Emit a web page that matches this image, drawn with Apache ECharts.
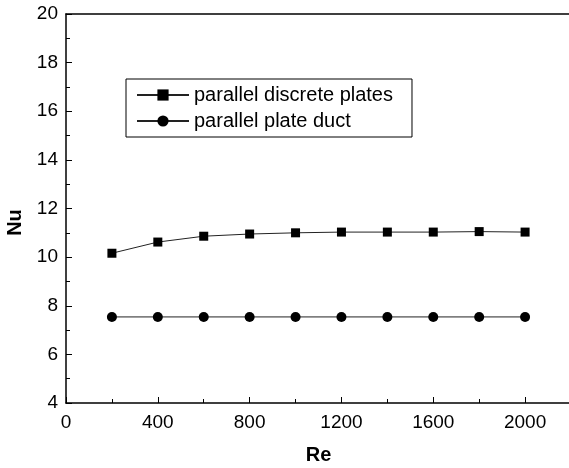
<!DOCTYPE html>
<html>
<head>
<meta charset="utf-8">
<script src="https://cdn.jsdelivr.net/npm/echarts@6/dist/echarts.min.js"></script>
<style>
  html, body { margin: 0; padding: 0; background: #fff; }
  #chart { width: 569px; height: 468px; }
</style>
</head>
<body>
<div id="chart"></div>
<script>
// Re values and Nu for both geometries
const reValues = [200, 400, 600, 800, 1000, 1200, 1400, 1600, 1800, 2000];
const nuDiscrete = [10.16, 10.62, 10.86, 10.95, 11.0, 11.03, 11.03, 11.03, 11.05, 11.03];
const nuDuct = [7.54, 7.54, 7.54, 7.54, 7.54, 7.54, 7.54, 7.54, 7.54, 7.54];
const seriesNames = ['parallel discrete plates', 'parallel plate duct'];

const font = 'Liberation Sans, Arial, sans-serif';

let myChart = echarts.init(document.getElementById('chart'));

function pairs(ys) {
  return reValues.map((x, i) => [x, ys[i]]);
}

myChart.setOption({
  animation: false,
  grid: { left: 66, right: -2, top: 14, bottom: 65, outerBoundsMode: 'none', containLabel: false },
  legend: {
    data: seriesNames,
    orient: 'vertical',
    left: 126,
    top: 79,
    padding: [6, 19, 6, 10],
    itemWidth: 52,
    itemHeight: 14,
    itemGap: 6,
    borderColor: '#000',
    borderWidth: 1,
    borderRadius: 0,
    textStyle: { fontFamily: font, fontSize: 20, color: '#000' }
  },
  xAxis: [
    {
      type: 'value',
      min: 0,
      max: 2200,
      interval: 400,
      name: 'Re',
      nameLocation: 'middle',
      nameGap: 42,
      nameTextStyle: { fontFamily: font, fontSize: 20, fontWeight: 'bold', color: '#000' },
      axisLine: { show: true, lineStyle: { color: '#000', width: 1.5 } },
      axisTick: { show: true, inside: true, length: 6, lineStyle: { color: '#000' } },
      minorTick: { show: true, splitNumber: 2, length: 4, lineStyle: { color: '#000' } },
      axisLabel: {
        fontFamily: font, fontSize: 19, color: '#000', margin: 10,
        formatter: v => (v > 2000 ? '' : v)
      },
      splitLine: { show: false }
    },
    {
      type: 'value',
      position: 'top',
      min: 0,
      max: 2200,
      axisLine: { show: true, onZero: false, lineStyle: { color: '#000', width: 1.5 } },
      axisTick: { show: false },
      axisLabel: { show: false },
      splitLine: { show: false }
    }
  ],
  yAxis: {
    type: 'value',
    min: 4,
    max: 20,
    interval: 2,
    name: 'Nu',
    nameLocation: 'middle',
    nameGap: 38,
    nameRotate: 90,
    nameTextStyle: { fontFamily: font, fontSize: 20, fontWeight: 'bold', color: '#000', padding: [0, 28, 0, 0] },
    axisLine: { show: true, lineStyle: { color: '#000', width: 1.5 } },
    axisTick: { show: true, inside: true, length: 6, lineStyle: { color: '#000' } },
    minorTick: { show: true, splitNumber: 2, length: 4, lineStyle: { color: '#000' } },
    axisLabel: { fontFamily: font, fontSize: 19, color: '#000', margin: 8 },
    splitLine: { show: false }
  },
  series: [
    {
      name: seriesNames[0],
      type: 'line',
      data: pairs(nuDiscrete),
      symbol: 'rect',
      symbolSize: 9,
      lineStyle: { color: '#222', width: 1 },
      itemStyle: { color: '#000' }
    },
    {
      name: seriesNames[1],
      type: 'line',
      data: pairs(nuDuct),
      symbol: 'circle',
      symbolSize: 10,
      lineStyle: { color: '#222', width: 1 },
      itemStyle: { color: '#000' }
    }
  ]
});
</script>
</body>
</html>
